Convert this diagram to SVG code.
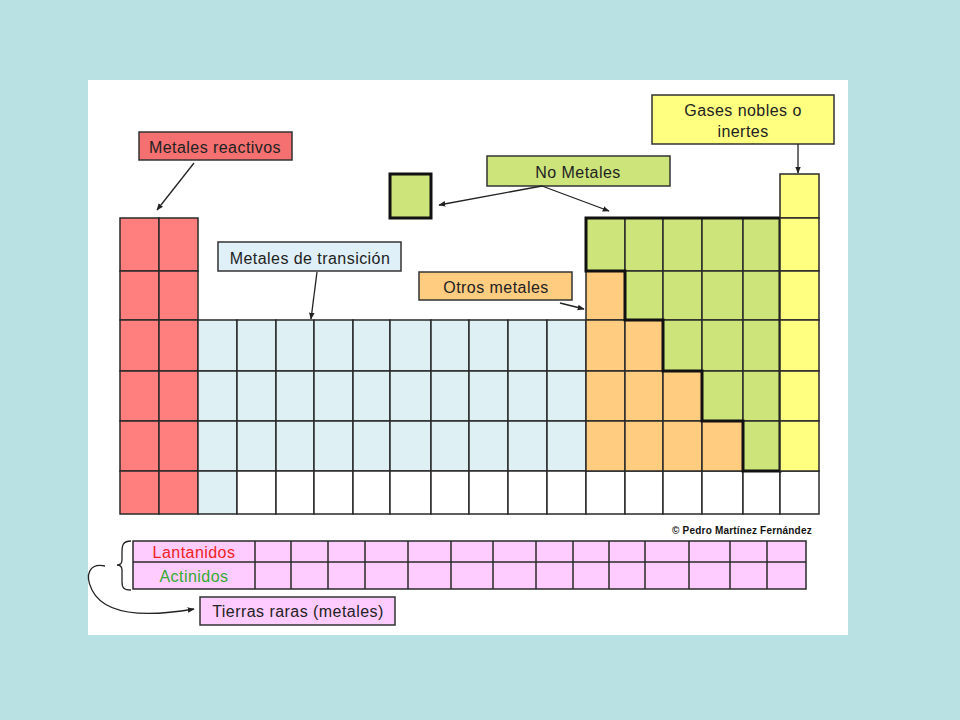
<svg xmlns="http://www.w3.org/2000/svg" width="960" height="720" viewBox="0 0 960 720">
<defs>
<style>
text{font-family:"Liberation Sans",Arial,sans-serif;font-size:16px;fill:#222;text-anchor:middle;letter-spacing:0.45px}
.g line,.g rect{stroke:#2a2a2a;stroke-width:1.5}
.r{fill:#FF7F7F}
.t{fill:#DFF0F5}
.w{fill:#FFFFFF}
.n{fill:#CCE47A}
.o{fill:#FFCC80}
.y{fill:#FFFF80}
.p{fill:#FFCCFF}
.lb{stroke:#333;stroke-width:1.5}
.c{stroke:#222;stroke-width:1.3;fill:none}
</style>
<marker id="ah" viewBox="0 0 10 10" refX="9" refY="5" markerWidth="7" markerHeight="7" orient="auto" markerUnits="userSpaceOnUse">
<path d="M0,1 L10,5 L0,9 Z" fill="#222"/>
</marker>
</defs>
<rect x="0" y="0" width="960" height="720" fill="#B9E0E3"/>
<rect x="88" y="80" width="760" height="555" fill="#FFFFFF"/>

<g id="metales-reactivos-cells" class="g">
<rect class="r" x="120" y="218" width="39" height="53"/><rect class="r" x="159" y="218" width="39" height="53"/>
<rect class="r" x="120" y="271" width="39" height="49"/><rect class="r" x="159" y="271" width="39" height="49"/>
<rect class="r" x="120" y="320" width="39" height="51"/><rect class="r" x="159" y="320" width="39" height="51"/>
<rect class="r" x="120" y="371" width="39" height="50"/><rect class="r" x="159" y="371" width="39" height="50"/>
<rect class="r" x="120" y="421" width="39" height="50"/><rect class="r" x="159" y="421" width="39" height="50"/>
<rect class="r" x="120" y="471" width="39" height="43"/><rect class="r" x="159" y="471" width="39" height="43"/>
</g>

<g id="transicion-cells" class="g">
<rect class="t" x="198" y="320" width="39" height="51"/><rect class="t" x="237" y="320" width="39" height="51"/><rect class="t" x="276" y="320" width="38" height="51"/><rect class="t" x="314" y="320" width="39" height="51"/><rect class="t" x="353" y="320" width="37" height="51"/><rect class="t" x="390" y="320" width="41" height="51"/><rect class="t" x="431" y="320" width="38" height="51"/><rect class="t" x="469" y="320" width="39" height="51"/><rect class="t" x="508" y="320" width="39" height="51"/><rect class="t" x="547" y="320" width="39" height="51"/>
<rect class="t" x="198" y="371" width="39" height="50"/><rect class="t" x="237" y="371" width="39" height="50"/><rect class="t" x="276" y="371" width="38" height="50"/><rect class="t" x="314" y="371" width="39" height="50"/><rect class="t" x="353" y="371" width="37" height="50"/><rect class="t" x="390" y="371" width="41" height="50"/><rect class="t" x="431" y="371" width="38" height="50"/><rect class="t" x="469" y="371" width="39" height="50"/><rect class="t" x="508" y="371" width="39" height="50"/><rect class="t" x="547" y="371" width="39" height="50"/>
<rect class="t" x="198" y="421" width="39" height="50"/><rect class="t" x="237" y="421" width="39" height="50"/><rect class="t" x="276" y="421" width="38" height="50"/><rect class="t" x="314" y="421" width="39" height="50"/><rect class="t" x="353" y="421" width="37" height="50"/><rect class="t" x="390" y="421" width="41" height="50"/><rect class="t" x="431" y="421" width="38" height="50"/><rect class="t" x="469" y="421" width="39" height="50"/><rect class="t" x="508" y="421" width="39" height="50"/><rect class="t" x="547" y="421" width="39" height="50"/>
<rect class="t" x="198" y="471" width="39" height="43"/>
</g>

<g id="empty-row-cells" class="g">
<rect class="w" x="237" y="471" width="39" height="43"/><rect class="w" x="276" y="471" width="38" height="43"/><rect class="w" x="314" y="471" width="39" height="43"/><rect class="w" x="353" y="471" width="37" height="43"/><rect class="w" x="390" y="471" width="41" height="43"/><rect class="w" x="431" y="471" width="38" height="43"/><rect class="w" x="469" y="471" width="39" height="43"/><rect class="w" x="508" y="471" width="39" height="43"/><rect class="w" x="547" y="471" width="39" height="43"/><rect class="w" x="586" y="471" width="39" height="43"/><rect class="w" x="625" y="471" width="38" height="43"/><rect class="w" x="663" y="471" width="39" height="43"/><rect class="w" x="702" y="471" width="41" height="43"/><rect class="w" x="743" y="471" width="37" height="43"/><rect class="w" x="780" y="471" width="39" height="43"/>
</g>

<g id="otros-metales-cells" class="g">
<rect class="o" x="586" y="271" width="39" height="49"/>
<rect class="o" x="586" y="320" width="39" height="51"/><rect class="o" x="625" y="320" width="38" height="51"/>
<rect class="o" x="586" y="371" width="39" height="50"/><rect class="o" x="625" y="371" width="38" height="50"/><rect class="o" x="663" y="371" width="39" height="50"/>
<rect class="o" x="586" y="421" width="39" height="50"/><rect class="o" x="625" y="421" width="38" height="50"/><rect class="o" x="663" y="421" width="39" height="50"/><rect class="o" x="702" y="421" width="41" height="50"/>
</g>

<g id="no-metales-cells" class="g">
<rect class="n" x="586" y="218" width="39" height="53"/><rect class="n" x="625" y="218" width="38" height="53"/><rect class="n" x="663" y="218" width="39" height="53"/><rect class="n" x="702" y="218" width="41" height="53"/><rect class="n" x="743" y="218" width="37" height="53"/>
<rect class="n" x="625" y="271" width="38" height="49"/><rect class="n" x="663" y="271" width="39" height="49"/><rect class="n" x="702" y="271" width="41" height="49"/><rect class="n" x="743" y="271" width="37" height="49"/>
<rect class="n" x="663" y="320" width="39" height="51"/><rect class="n" x="702" y="320" width="41" height="51"/><rect class="n" x="743" y="320" width="37" height="51"/>
<rect class="n" x="702" y="371" width="41" height="50"/><rect class="n" x="743" y="371" width="37" height="50"/>
<rect class="n" x="743" y="421" width="37" height="50"/>
<path d="M586,218 H780 V471 H743 V421 H702 V371 H663 V320 H625 V271 H586 Z" fill="none" stroke="#111" stroke-width="3"/>
</g>

<g id="gases-nobles-cells" class="g">
<rect class="y" x="780" y="174" width="39" height="44"/>
<rect class="y" x="780" y="218" width="39" height="53"/>
<rect class="y" x="780" y="271" width="39" height="49"/>
<rect class="y" x="780" y="320" width="39" height="51"/>
<rect class="y" x="780" y="371" width="39" height="50"/>
<rect class="y" x="780" y="421" width="39" height="50"/>
</g>

<g id="hidrogeno">
<rect class="n" x="390" y="174" width="41" height="44" stroke="#111" stroke-width="3"/>
</g>

<g id="tierras-raras-table">
<rect class="p" x="133" y="541" width="673" height="48" stroke="#2a2a2a" stroke-width="1.5"/>
<g stroke="#2a2a2a" stroke-width="1.5">
<line x1="133" y1="562" x2="806" y2="562"/>
<line x1="255" y1="541" x2="255" y2="589"/><line x1="291" y1="541" x2="291" y2="589"/><line x1="328" y1="541" x2="328" y2="589"/><line x1="365" y1="541" x2="365" y2="589"/><line x1="408" y1="541" x2="408" y2="589"/><line x1="451" y1="541" x2="451" y2="589"/><line x1="493" y1="541" x2="493" y2="589"/><line x1="536" y1="541" x2="536" y2="589"/><line x1="573" y1="541" x2="573" y2="589"/><line x1="609" y1="541" x2="609" y2="589"/><line x1="645" y1="541" x2="645" y2="589"/><line x1="689" y1="541" x2="689" y2="589"/><line x1="730" y1="541" x2="730" y2="589"/><line x1="767" y1="541" x2="767" y2="589"/>
</g>
<text x="194" y="558" style="fill:#EE2222">Lantanidos</text>
<text x="194" y="582" style="fill:#33AA33">Actinidos</text>
</g>

<g id="label-metales-reactivos">
<rect class="lb" x="139" y="132" width="153" height="28" fill="#F57070"/>
<text x="215" y="153">Metales reactivos</text>
</g>
<g id="label-metales-transicion">
<rect class="lb" x="218" y="242" width="183" height="29" fill="#DFF0F8"/>
<text x="310" y="264">Metales de transición</text>
</g>
<g id="label-no-metales">
<rect class="lb" x="487" y="156" width="183" height="30" fill="#CCE47A"/>
<text x="578" y="178">No Metales</text>
</g>
<g id="label-gases-nobles">
<rect class="lb" x="652" y="95" width="182" height="49" fill="#FFFF80"/>
<text x="743" y="116">Gases nobles o</text>
<text x="743" y="137">inertes</text>
</g>
<g id="label-otros-metales">
<rect class="lb" x="419" y="272" width="153" height="28" fill="#FFCC80"/>
<text x="496" y="293">Otros metales</text>
</g>
<g id="label-tierras-raras">
<rect class="lb" x="200" y="597" width="195" height="28" fill="#FFCCFF"/>
<text x="298" y="617">Tierras raras (metales)</text>
</g>
<g id="copyright">
<text x="742" y="534" style="font-size:10px;font-weight:bold;fill:#111;letter-spacing:0.2px">© Pedro Martínez Fernández</text>
</g>

<g id="connectors">
<line class="c" x1="194" y1="163" x2="157" y2="210" marker-end="url(#ah)"/>
<line class="c" x1="317" y1="272" x2="311" y2="319" marker-end="url(#ah)"/>
<line class="c" x1="542" y1="186" x2="439" y2="205" marker-end="url(#ah)"/>
<line class="c" x1="542" y1="186" x2="609" y2="211" marker-end="url(#ah)"/>
<line class="c" x1="798" y1="144" x2="798" y2="173" marker-end="url(#ah)"/>
<line class="c" x1="560" y1="303" x2="584" y2="309" marker-end="url(#ah)"/>
<path class="c" d="M131,541 C123,541 122,545 122,552 L122,560 C122,563 120,565 117,565 C120,565 122,567 122,570 L122,582 C122,588 124,590 131,590"/>
<path class="c" d="M105,566 C90,563 84,574 92,590 C102,610 130,620 194,609" marker-end="url(#ah)"/>
</g>
</svg>
